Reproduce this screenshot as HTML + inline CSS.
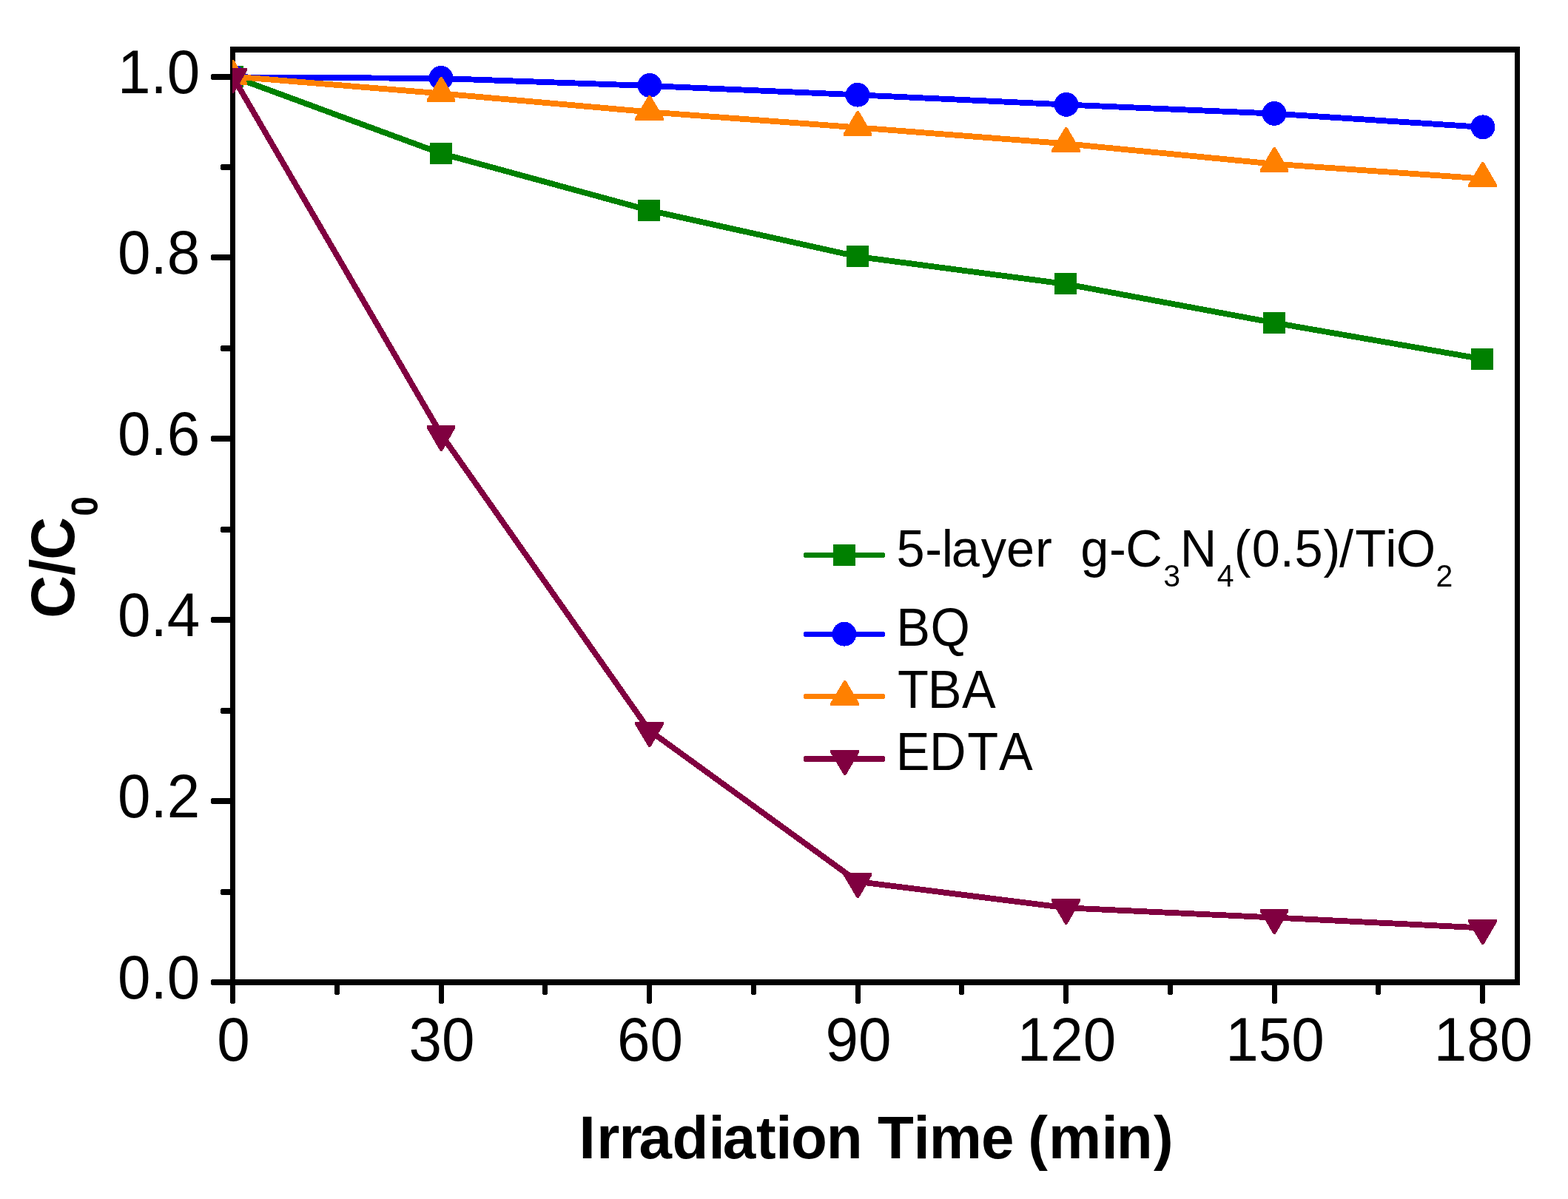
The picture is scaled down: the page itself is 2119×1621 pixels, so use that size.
<!DOCTYPE html>
<html lang="en"><head><meta charset="utf-8"><title>C/C0 vs Irradiation Time</title>
<style>html,body{margin:0;padding:0;background:#fff;}body{width:2119px;height:1621px;overflow:hidden;}svg{display:block;}text{font-family:"Liberation Sans", sans-serif;fill:#000;font-kerning:none;white-space:pre;}</style></head><body>
<svg width="2119" height="1621" viewBox="0 0 2119 1621" role="img" aria-label="C/C0 versus irradiation time">
<rect x="0" y="0" width="2119" height="1621" fill="#ffffff"/>
<defs><clipPath id="plotclip"><rect x="314" y="67" width="1736" height="1261"/></clipPath></defs>
<g fill="#000" shape-rendering="crispEdges">
<rect x="311" y="63" width="7" height="1269"/>
<rect x="2047" y="63" width="7" height="1269"/>
<rect x="311" y="63" width="1743" height="8"/>
<rect x="311" y="1324" width="1743" height="8"/>
</g>
<g fill="#000" shape-rendering="crispEdges">
<rect x="285" y="1324" width="29" height="8" rx="3" ry="3"/>
<rect x="298" y="1202" width="16" height="8" rx="3" ry="3"/>
<rect x="285" y="1079" width="29" height="8" rx="3" ry="3"/>
<rect x="298" y="957" width="16" height="8" rx="3" ry="3"/>
<rect x="285" y="834" width="29" height="8" rx="3" ry="3"/>
<rect x="298" y="712" width="16" height="8" rx="3" ry="3"/>
<rect x="285" y="589" width="29" height="8" rx="3" ry="3"/>
<rect x="298" y="467" width="16" height="8" rx="3" ry="3"/>
<rect x="285" y="344" width="29" height="8" rx="3" ry="3"/>
<rect x="298" y="222" width="16" height="8" rx="3" ry="3"/>
<rect x="285" y="100" width="29" height="8" rx="3" ry="3"/>
<rect x="311" y="1328" width="7" height="29" rx="3" ry="3"/>
<rect x="452" y="1328" width="7" height="17" rx="3" ry="3"/>
<rect x="593" y="1328" width="7" height="29" rx="3" ry="3"/>
<rect x="733" y="1328" width="7" height="17" rx="3" ry="3"/>
<rect x="874" y="1328" width="7" height="29" rx="3" ry="3"/>
<rect x="1015" y="1328" width="7" height="17" rx="3" ry="3"/>
<rect x="1156" y="1328" width="7" height="29" rx="3" ry="3"/>
<rect x="1296" y="1328" width="7" height="17" rx="3" ry="3"/>
<rect x="1437" y="1328" width="7" height="29" rx="3" ry="3"/>
<rect x="1578" y="1328" width="7" height="17" rx="3" ry="3"/>
<rect x="1719" y="1328" width="7" height="29" rx="3" ry="3"/>
<rect x="1859" y="1328" width="7" height="17" rx="3" ry="3"/>
<rect x="2000" y="1328" width="7" height="29" rx="3" ry="3"/>
</g>
<g clip-path="url(#plotclip)" shape-rendering="crispEdges">
<polyline points="314.5,103.6 596.0,207.4 877.5,284.4 1159.0,346.9 1440.5,384.0 1722.0,436.4 2003.5,485.4" fill="none" stroke="#008000" stroke-width="7.85" stroke-linejoin="round"/>
<rect x="299" y="89" width="30" height="29" fill="#008000"/>
<rect x="581" y="193" width="30" height="29" fill="#008000"/>
<rect x="862" y="270" width="30" height="29" fill="#008000"/>
<rect x="1144" y="332" width="30" height="29" fill="#008000"/>
<rect x="1425" y="369" width="30" height="29" fill="#008000"/>
<rect x="1707" y="422" width="30" height="29" fill="#008000"/>
<rect x="1988" y="471" width="30" height="29" fill="#008000"/>
<polyline points="314.5,104.3 596.0,106.0 877.5,116.0 1159.0,128.3 1440.5,141.5 1722.0,153.6 2003.5,171.9" fill="none" stroke="#0000ff" stroke-width="7.85" stroke-linejoin="round"/>
<circle cx="315.00" cy="104.00" r="16.4" fill="#0000ff"/>
<circle cx="596.00" cy="105.45" r="16.4" fill="#0000ff"/>
<circle cx="878.00" cy="115.45" r="16.4" fill="#0000ff"/>
<circle cx="1159.00" cy="128.25" r="16.4" fill="#0000ff"/>
<circle cx="1441.00" cy="141.35" r="16.4" fill="#0000ff"/>
<circle cx="1722.00" cy="153.45" r="16.4" fill="#0000ff"/>
<circle cx="2004.00" cy="171.85" r="16.4" fill="#0000ff"/>
<polyline points="314.5,103.4 596.0,126.4 877.5,151.4 1159.0,172.4 1440.5,194.3 1722.0,221.7 2003.5,241.5" fill="none" stroke="#ff8000" stroke-width="7.85" stroke-linejoin="round"/>
<polygon points="313.5,81.0 316.1,81.0 333.8,111.4 333.8,115.0 295.2,115.0 295.2,111.4" fill="#ff8000"/>
<polygon points="595.0,104.0 597.6,104.0 615.2,134.4 615.2,138.0 576.8,138.0 576.8,134.4" fill="#ff8000"/>
<polygon points="876.5,129.0 879.1,129.0 896.8,159.4 896.8,163.0 858.2,163.0 858.2,159.4" fill="#ff8000"/>
<polygon points="1158.0,150.0 1160.6,150.0 1178.2,180.4 1178.2,184.0 1139.8,184.0 1139.8,180.4" fill="#ff8000"/>
<polygon points="1439.5,172.0 1442.1,172.0 1459.8,202.4 1459.8,206.0 1421.2,206.0 1421.2,202.4" fill="#ff8000"/>
<polygon points="1721.0,199.0 1723.6,199.0 1741.2,229.4 1741.2,233.0 1702.8,233.0 1702.8,229.4" fill="#ff8000"/>
<polygon points="2002.5,219.0 2005.1,219.0 2022.8,249.4 2022.8,253.0 1984.2,253.0 1984.2,249.4" fill="#ff8000"/>
<polyline points="314.5,103.4 596.0,587.0 877.5,987.5 1159.0,1191.9 1440.5,1227.3 1722.0,1240.5 2003.5,1254.5" fill="none" stroke="#800040" stroke-width="7.85" stroke-linejoin="round"/>
<polygon points="295.2,92.0 333.8,92.0 333.8,95.6 316.1,126.0 313.5,126.0 295.2,95.6" fill="#800040"/>
<polygon points="576.8,575.0 615.2,575.0 615.2,578.6 597.6,610.0 595.0,610.0 576.8,578.6" fill="#800040"/>
<polygon points="858.2,976.0 896.8,976.0 896.8,979.6 879.1,1010.0 876.5,1010.0 858.2,979.6" fill="#800040"/>
<polygon points="1139.8,1180.0 1178.2,1180.0 1178.2,1183.6 1160.6,1214.0 1158.0,1214.0 1139.8,1183.6" fill="#800040"/>
<polygon points="1421.2,1215.0 1459.8,1215.0 1459.8,1218.6 1442.1,1250.0 1439.5,1250.0 1421.2,1218.6" fill="#800040"/>
<polygon points="1702.8,1229.0 1741.2,1229.0 1741.2,1232.6 1723.6,1263.0 1721.0,1263.0 1702.8,1232.6" fill="#800040"/>
<polygon points="1984.2,1243.0 2022.8,1243.0 2022.8,1246.6 2005.1,1277.0 2002.5,1277.0 1984.2,1246.6" fill="#800040"/>
</g>
<g font-size="80" text-anchor="end" transform="scale(1,1.04)">
<text x="270.3" y="1298.17">0.0</text>
<text x="270.3" y="1062.69">0.2</text>
<text x="270.3" y="827.21">0.4</text>
<text x="270.3" y="591.73">0.6</text>
<text x="270.3" y="356.25">0.8</text>
<text x="270.3" y="120.77">1.0</text>
</g>
<g font-size="80" text-anchor="middle" transform="scale(1,1.04)">
<text x="315.5" y="1379.04">0</text>
<text x="597.0" y="1379.04">30</text>
<text x="878.5" y="1379.04">60</text>
<text x="1160.0" y="1379.04">90</text>
<text x="1441.5" y="1379.04">120</text>
<text x="1723.0" y="1379.04">150</text>
<text x="2004.5" y="1379.04">180</text>
</g>
<text transform="scale(1,1.02)" font-size="80" font-weight="bold" y="1535.29" x="782.4 806.3 836.4 863.5 908.6 957.4 976.7 1022.1 1048.2 1069.1 1116.8 1165.6 1185.9 1234.6 1255.7 1326.0 1370.5 1389.3 1417.0 1488.5 1508.8 1559.0">Irradiation Time (min)</text>
<text transform="translate(100.3,0) rotate(-90) scale(1,1.04)" font-size="80" font-weight="bold" y="0" x="-835.8 -778.0 -756.8">C/C<tspan font-size="48" x="-697.8" dy="30.00">0</tspan></text>
<rect x="1086" y="747" width="110" height="7" rx="2.5" ry="2.5" fill="#008000" shape-rendering="crispEdges"/>
<rect x="1126" y="736" width="30" height="29" fill="#008000" shape-rendering="crispEdges"/>
<text transform="scale(1,1.03)" font-size="68.57" y="743.98"><tspan x="1211.5 1250.3 1272.8 1285.7 1325.7 1360.1 1399.0 1421.9 1440.9 1460.3 1499.1 1521.2">5-layer  g-C</tspan><tspan x="1572.2" dy="25.53" font-size="41">3</tspan><tspan x="1594.7" dy="-25.53">N</tspan><tspan x="1644.7" dy="25.53" font-size="41">4</tspan><tspan x="1667.7 1691.7 1729.8 1749.4 1788.6 1810.0 1831.2 1872.3 1886.8" dy="-25.53">(0.5)/TiO</tspan><tspan x="1940.4" dy="25.53" font-size="41">2</tspan></text>
<rect x="1086" y="854" width="110" height="7" rx="2.5" ry="2.5" fill="#0000ff" shape-rendering="crispEdges"/>
<circle cx="1141.00" cy="857.20" r="16.4" fill="#0000ff" shape-rendering="crispEdges"/>
<text transform="scale(1,1.04)" font-size="68.57" y="839.42"><tspan x="1211.3 1257.5">BQ</tspan></text>
<rect x="1086" y="938" width="110" height="7" rx="2.5" ry="2.5" fill="#ff8000" shape-rendering="crispEdges"/>
<polygon points="1140.5,920.0 1143.1,920.0 1160.8,950.4 1160.8,954.0 1122.2,954.0 1122.2,950.4" fill="#ff8000" shape-rendering="crispEdges"/>
<text transform="scale(1,1.04)" font-size="68.57" y="920.00"><tspan x="1212.9 1253.8 1299.9">TBA</tspan></text>
<rect x="1086" y="1022" width="110" height="8" rx="2.5" ry="2.5" fill="#800040" shape-rendering="crispEdges"/>
<polygon points="1122.2,1014.0 1160.8,1014.0 1160.8,1017.6 1143.1,1048.0 1140.5,1048.0 1122.2,1017.6" fill="#800040" shape-rendering="crispEdges"/>
<text transform="scale(1,1.04)" font-size="68.57" y="1000.96"><tspan x="1210.7 1255.9 1307.2 1350.1">EDTA</tspan></text>
</svg></body></html>
